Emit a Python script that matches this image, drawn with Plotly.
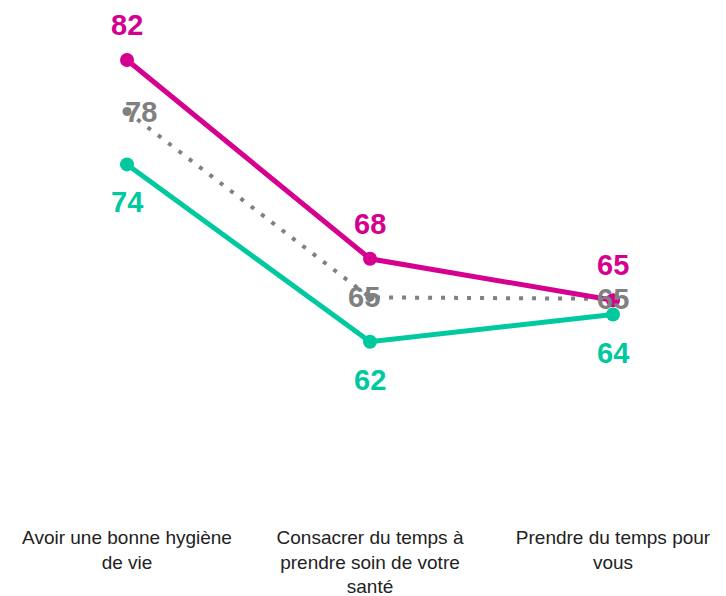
import plotly.graph_objects as go

categories = [
    "Avoir une bonne hygiène<br>de vie",
    "Consacrer du temps à<br>prendre soin de votre<br>santé",
    "Prendre du temps pour<br>vous",
]
magenta_values = [81.7, 67.8, 64.9]
grey_values = [78.1, 65.1, 65.0]
teal_values = [74.4, 62.0, 63.9]

MAGENTA = "#D5008F"
TEAL = "#00C9A0"
GREY = "#808080"
FONT = "Liberation Sans, Arial, sans-serif"
grey_label_xshift = [14, -6, 0]

fig = go.Figure()

fig.add_trace(go.Scatter(
    x=categories, y=grey_values, mode="lines+markers",
    line=dict(color=GREY, width=4, dash="4px,9px"),
    marker=dict(color=GREY, size=9),
    hoverinfo="skip", showlegend=False,
))
fig.add_trace(go.Scatter(
    x=categories, y=teal_values, mode="lines+markers",
    line=dict(color=TEAL, width=5),
    marker=dict(color=TEAL, size=14),
    hoverinfo="skip", showlegend=False,
))
fig.add_trace(go.Scatter(
    x=categories, y=magenta_values, mode="lines+markers",
    line=dict(color=MAGENTA, width=5),
    marker=dict(color=MAGENTA, size=14),
    hoverinfo="skip", showlegend=False,
))

annotations = []
for cat, v in zip(categories, magenta_values):
    annotations.append(dict(x=cat, y=v, text=str(round(v)), showarrow=False,
                            yshift=35, font=dict(family=FONT, size=29, color=MAGENTA, weight="bold")))
for cat, v in zip(categories, teal_values):
    annotations.append(dict(x=cat, y=v, text=str(round(v)), showarrow=False,
                            yshift=-38, font=dict(family=FONT, size=29, color=TEAL, weight="bold")))
for cat, v, xs in zip(categories, grey_values, grey_label_xshift):
    annotations.append(dict(x=cat, y=v, text=str(round(v)), showarrow=False,
                            yshift=0, xshift=xs,
                            font=dict(family=FONT, size=29, color=GREY, weight="bold")))

fig.update_layout(
    width=718, height=588,
    margin=dict(l=0, r=0, t=0, b=72),
    paper_bgcolor="white", plot_bgcolor="white",
    showlegend=False,
    annotations=annotations,
    xaxis=dict(
        type="category",
        range=[-0.4897, 2.4650],
        automargin=False,
        showgrid=False, zeroline=False, showline=False, ticks="",
        tickfont=dict(family=FONT, size=19, color="#222222"),
    ),
    yaxis=dict(
        range=[49.25, 85.34],
        automargin=False,
        showgrid=False, zeroline=False, showline=False,
        showticklabels=False, ticks="",
    ),
)

fig.write_html("out.html")
